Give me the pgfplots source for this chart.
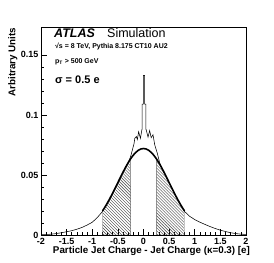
\documentclass[border=0pt]{standalone}
\usepackage{pgfplots}
\pgfplotsset{compat=1.18}
\usetikzlibrary{patterns}
\usepackage{fontspec}
\setmainfont{Liberation Sans}

\pgfplotstableread{
x y
-2.00 0.0002
-1.90 0.0004
-1.80 0.0007
-1.70 0.0012
-1.60 0.0019
-1.50 0.0027
-1.40 0.0036
-1.30 0.0048
-1.20 0.0063
-1.10 0.0083
-1.00 0.0106
-0.90 0.0146
-0.80 0.0196
-0.70 0.0267
-0.60 0.0350
-0.50 0.0437
-0.40 0.0522
-0.35 0.0562
-0.30 0.0600
-0.25 0.0655
-0.21 0.0720
-0.185 0.0760
-0.17 0.0805
-0.14 0.0820
-0.12 0.0795
-0.095 0.0860
-0.06 0.0805
-0.03 0.0880
-0.025 0.0880
-0.025 0.1090
-0.004 0.1090
-0.004 0.1330
0.020 0.1330
0.020 0.1090
0.045 0.1090
0.045 0.0880
0.050 0.0880
0.088 0.0815
0.120 0.0870
0.150 0.0810
0.185 0.0835
0.220 0.0750
0.270 0.0680
0.316 0.0600
0.35 0.0565
0.40 0.0522
0.50 0.0437
0.60 0.0350
0.70 0.0268
0.80 0.0196
0.90 0.0156
1.00 0.0128
1.10 0.0107
1.20 0.0088
1.30 0.0070
1.40 0.0054
1.50 0.0040
1.60 0.0029
1.70 0.0019
1.80 0.0012
1.90 0.0007
2.00 0.0005
}\histo

\pgfplotstableread{
x y
-0.80 0.02002
-0.75 0.02337
-0.70 0.02702
-0.65 0.03093
-0.60 0.03505
-0.55 0.03932
-0.50 0.04367
-0.45 0.04802
-0.40 0.05228
-0.35 0.05635
-0.30 0.06014
-0.25 0.06354
-0.20 0.06646
-0.15 0.06883
-0.10 0.07057
-0.05 0.07164
0.00 0.07200
0.05 0.07164
0.10 0.07057
0.15 0.06883
0.20 0.06646
0.25 0.06354
0.30 0.06014
0.35 0.05635
0.40 0.05228
0.45 0.04802
0.50 0.04367
0.55 0.03932
0.60 0.03505
0.65 0.03093
0.70 0.02702
0.75 0.02337
0.80 0.02002
}\gauss

\pgfplotstableread{
x y
-0.80 0.02002
-0.75 0.02337
-0.70 0.02702
-0.65 0.03093
-0.60 0.03505
-0.55 0.03932
-0.50 0.04367
-0.45 0.04802
-0.40 0.05228
-0.35 0.05635
-0.30 0.06014
-0.25 0.06354
}\shadeL

\pgfplotstableread{
x y
0.25 0.06354
0.30 0.06014
0.35 0.05635
0.40 0.05228
0.45 0.04802
0.50 0.04367
0.55 0.03932
0.60 0.03505
0.65 0.03093
0.70 0.02702
0.75 0.02337
0.80 0.02002
}\shadeR

\begin{document}
\begin{tikzpicture}
\useasboundingbox (-41bp,-27.5bp) rectangle (233bp,235bp);
\begin{axis}[
  at={(0,0)}, anchor=south west,
  scale only axis, width=205bp, height=207.5bp,
  xmin=-2, xmax=2, ymin=0, ymax=0.1728,
  axis line style={line width=0.7bp},
  xtick={-2,-1.5,-1,-0.5,0,0.5,1,1.5,2},
  xticklabels={-2,-1.5,-1,-0.5,0,0.5,1,1.5,2},
  ytick={0,0.05,0.1,0.15},
  yticklabels={0,0.05,0.1,0.15},
  scaled y ticks=false,
  minor x tick num=4, minor y tick num=4,
  tick align=inside, xtick pos=bottom, ytick pos=left,
  major tick length=6bp, minor tick length=3bp,
  tick style={line width=0.6bp, black},
  ticklabel style={font=\fontsize{9bp}{10bp}\selectfont\bfseries},
  xticklabel style={inner sep=3.2bp},
  yticklabel style={inner sep=2.5bp},
  xlabel={Particle Jet Charge - Jet Charge (κ=0.3) [e]},
  ylabel={Arbitrary Units},
  label style={font=\fontsize{9.8bp}{11bp}\selectfont\bfseries},
  xlabel style={at={(axis description cs:1.02,-0.088)}, anchor=base east, inner sep=0pt},
  ylabel style={at={(axis description cs:-0.137,1.0)}, anchor=east, inner sep=0pt},
  clip=true,
]
\addplot[draw=gray!80!black, line width=0.4bp, pattern=north west lines, pattern color=black!75] table {\shadeL} \closedcycle;
\addplot[draw=gray!80!black, line width=0.4bp, pattern=north west lines, pattern color=black!75] table {\shadeR} \closedcycle;
\addplot[black, line width=0.55bp, sharp plot] table {\histo};
\addplot[black, line width=1.6bp, smooth] table {\gauss};
\node[anchor=base west, inner sep=0pt, font=\fontsize{12.5bp}{14bp}\selectfont\bfseries\itshape] at (rel axis cs:0.0634,0.950) {ATLAS};
\node[anchor=base west, inner sep=0pt, font=\fontsize{12.5bp}{14bp}\selectfont] at (rel axis cs:0.322,0.950) {Simulation};
\node[anchor=base west, inner sep=0pt, font=\fontsize{7bp}{8bp}\selectfont\bfseries] at (rel axis cs:0.068,0.901) {√s = 8 TeV, Pythia 8.175 CT10 AU2};
\node[anchor=base west, inner sep=0pt, font=\fontsize{7bp}{8bp}\selectfont\bfseries] at (rel axis cs:0.068,0.825) {p\textsubscript{T} > 500 GeV};
\node[anchor=base west, inner sep=0pt, font=\fontsize{11bp}{12bp}\selectfont\bfseries] at (rel axis cs:0.068,0.729) {σ = 0.5 e};
\end{axis}
\end{tikzpicture}
\end{document}
